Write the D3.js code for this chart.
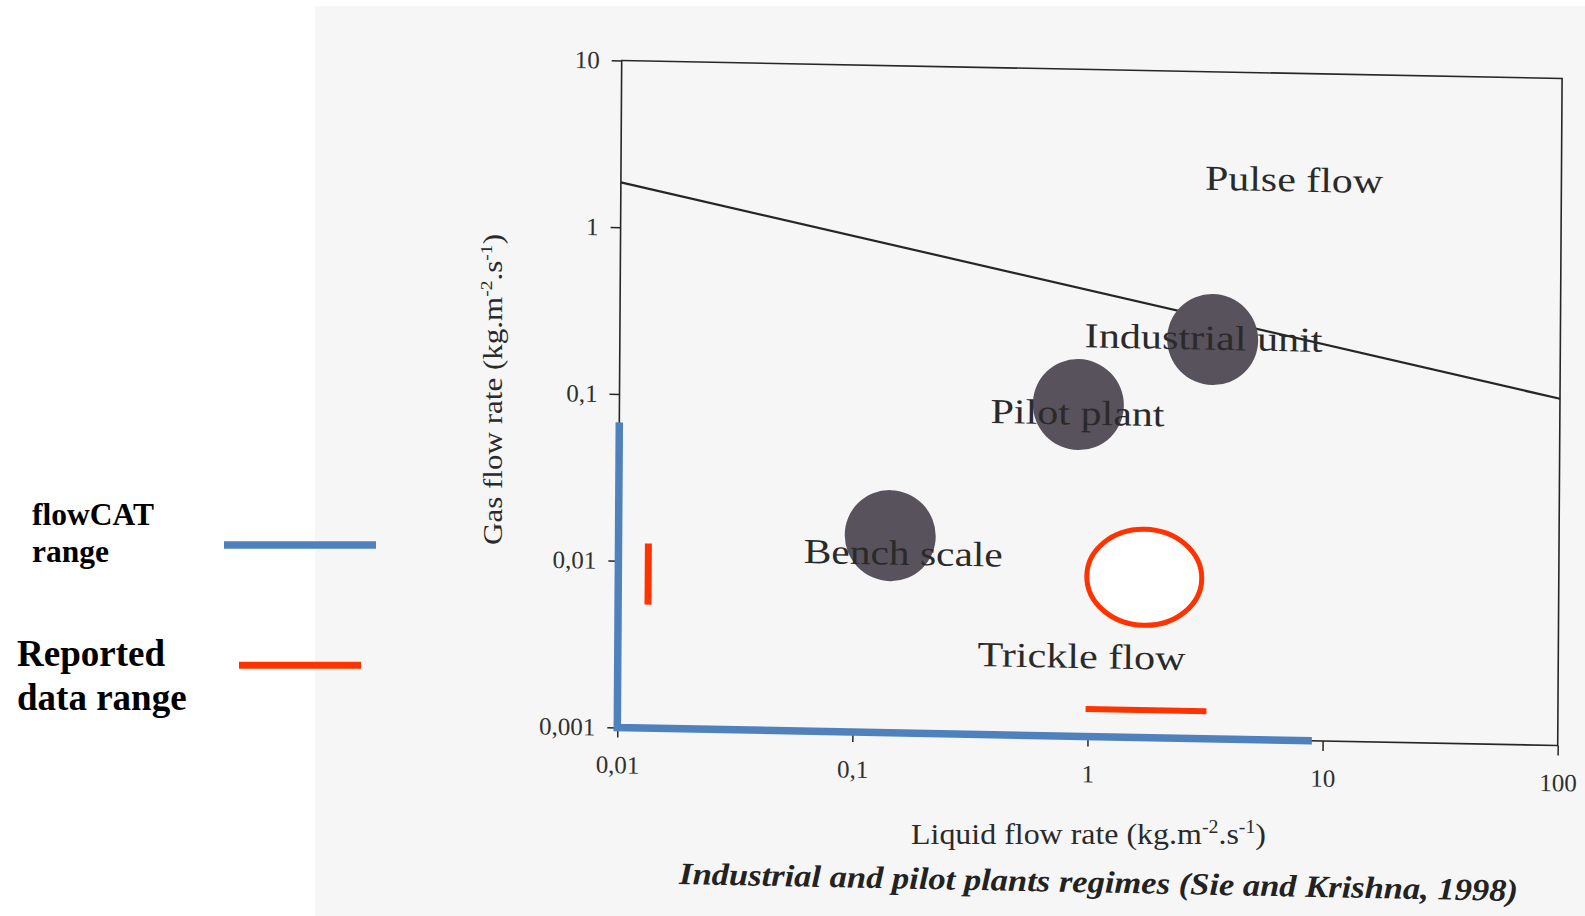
<!DOCTYPE html>
<html><head><meta charset="utf-8">
<script src="https://cdn.jsdelivr.net/npm/d3@7"></script>
<style>
html,body{margin:0;padding:0;background:#fff;}
svg{display:block;}
text{font-family:"Liberation Serif","Times New Roman",serif;}
</style></head><body>
<svg id="chart" width="1585" height="916"></svg>
<script>
// ---------- data ----------
const xTicks = [0.01, 0.1, 1, 10, 100];
const xTickLabels = ["0,01", "0,1", "1", "10", "100"];
const yTicks = [0.001, 0.01, 0.1, 1, 10];
const yTickLabels = ["0,001", "0,01", "0,1", "1", "10"];

// pulse / trickle flow transition line
const boundaryLiquid = [0.01, 100];
const boundaryGas = [1.86, 0.12];

// operating regimes (dark discs)
const unitNames = ["Bench scale", "Pilot plant", "Industrial unit"];
const unitLiquid = [0.143, 0.895, 3.32];
const unitGas = [0.0152, 0.0975, 0.248];

// text annotations (left edge / baseline in data units)
const regionNames = ["Pulse flow", "Industrial unit", "Pilot plant", "Bench scale", "Trickle flow"];
const regionLiquid = [3.05, 0.948, 0.379, 0.0614, 0.339];
const regionGas = [1.96, 0.2155, 0.074, 0.0102, 0.00257];

// flowCAT range (blue L)
const flowcatLiquid = [0.01, 0.01, 9.0];
const flowcatGas = [0.0676, 0.001, 0.001];

// reported data ranges (red)
const reportedVLiquid = [0.0134, 0.0134];
const reportedVGas = [0.0055, 0.0128];
const reportedHLiquid = [0.98, 3.2];
const reportedHGas = [0.00146, 0.00146];
const reportedEllipseLiquid = [0.983, 3.03];
const reportedEllipseGas = [0.00471, 0.01774];

const legendLabels = [["flowCAT", "range"], ["Reported", "data range"]];

// ---------- layout / style ----------
const BLUE = "#4f81bd", RED = "#ff3300", INK = "#262626";
const regionLen = [178, 238, 174, 199, 208];
const plotW = 940.4, plotH = 667;

const svg = d3.select("#chart");

// scanned page background
svg.append("rect").attr("x", 315).attr("y", 6).attr("width", 1270).attr("height", 910).attr("fill", "#f6f6f6");

const x = d3.scaleLog().domain([0.01, 100]).range([0, plotW]);
const y = d3.scaleLog().domain([0.001, 10]).range([0, -plotH]);

// scan is slightly skewed
const g = svg.append("g").attr("transform", "matrix(1,0.01914,-0.00659,1,617.3,727.5)");

// frame
g.append("rect").attr("x", x(0.01)).attr("y", y(10))
  .attr("width", x(100) - x(0.01)).attr("height", y(0.001) - y(10))
  .attr("fill", "none").attr("stroke", INK).attr("stroke-width", 1.6);

// axes
const xAxis = g.append("g").call(d3.axisBottom(x).tickValues(xTicks)
  .tickFormat((d, i) => xTickLabels[i]).tickSize(10).tickSizeOuter(0).tickPadding(18));
const yAxis = g.append("g").call(d3.axisLeft(y).tickValues(yTicks)
  .tickFormat((d, i) => yTickLabels[i]).tickSize(10).tickSizeOuter(0).tickPadding(12));
[xAxis, yAxis].forEach(a => {
  a.select(".domain").remove();
  a.selectAll(".tick line").attr("stroke", INK).attr("stroke-width", 1.5);
  a.selectAll(".tick text").attr("fill", "#303030").attr("font-size", 25)
    .attr("font-family", "'Liberation Serif', serif");
});

// boundary line
const line = d3.line().x(d => x(d[0])).y(d => y(d[1]));
g.append("path").datum(boundaryLiquid.map((l, i) => [l, boundaryGas[i]]))
  .attr("d", line).attr("fill", "none").attr("stroke", INK).attr("stroke-width", 2.2);

// discs
g.selectAll("circle.unit").data(unitNames).join("circle").attr("class", "unit")
  .attr("cx", (d, i) => x(unitLiquid[i])).attr("cy", (d, i) => y(unitGas[i]))
  .attr("r", 45.5).attr("fill", "#58525d");

// region labels
g.selectAll("text.region").data(regionNames).join("text").attr("class", "region")
  .attr("x", (d, i) => x(regionLiquid[i])).attr("y", (d, i) => y(regionGas[i]))
  .attr("font-size", 35).attr("fill", "#2a2a2a")
  .attr("textLength", (d, i) => regionLen[i]).attr("lengthAdjust", "spacingAndGlyphs")
  .text(d => d);

// flowCAT range
g.append("path").datum(flowcatLiquid.map((l, i) => [l, flowcatGas[i]]))
  .attr("d", line).attr("fill", "none").attr("stroke", BLUE).attr("stroke-width", 7.5)
  .attr("stroke-linejoin", "miter");

// reported data
g.append("path").datum(reportedVLiquid.map((l, i) => [l, reportedVGas[i]]))
  .attr("d", line).attr("stroke", RED).attr("stroke-width", 7);
g.append("path").datum(reportedHLiquid.map((l, i) => [l, reportedHGas[i]]))
  .attr("d", line).attr("stroke", RED).attr("stroke-width", 6);
{
  const x0 = x(reportedEllipseLiquid[0]), x1 = x(reportedEllipseLiquid[1]);
  const y0 = y(reportedEllipseGas[0]), y1 = y(reportedEllipseGas[1]);
  g.append("ellipse").attr("cx", (x0 + x1) / 2).attr("cy", (y0 + y1) / 2)
    .attr("rx", Math.abs(x1 - x0) / 2).attr("ry", Math.abs(y1 - y0) / 2)
    .attr("fill", "#ffffff").attr("stroke", RED).attr("stroke-width", 5);
}

// axis titles
const xt = svg.append("text").attr("x", 911).attr("y", 844).attr("font-size", 29).attr("fill", "#2a2a2a")
  .attr("textLength", 355).attr("lengthAdjust", "spacingAndGlyphs");
xt.append("tspan").text("Liquid flow rate (kg.m");
xt.append("tspan").attr("dy", -11).attr("font-size", 18).text("-2");
xt.append("tspan").attr("dy", 11).text(".s");
xt.append("tspan").attr("dy", -11).attr("font-size", 18).text("-1");
xt.append("tspan").attr("dy", 11).text(")");

const yt = svg.append("text").attr("transform", "translate(502,545) rotate(-90)")
  .attr("font-size", 27).attr("fill", "#2a2a2a")
  .attr("textLength", 311).attr("lengthAdjust", "spacingAndGlyphs");
yt.append("tspan").text("Gas flow rate (kg.m");
yt.append("tspan").attr("dy", -10).attr("font-size", 17).text("-2");
yt.append("tspan").attr("dy", 10).text(".s");
yt.append("tspan").attr("dy", -10).attr("font-size", 17).text("-1");
yt.append("tspan").attr("dy", 10).text(")");

// caption
svg.append("text").attr("transform", "translate(679,884) rotate(1.16)")
  .attr("font-size", 31).attr("font-weight", "bold").attr("font-style", "italic").attr("fill", "#222")
  .attr("textLength", 839).attr("lengthAdjust", "spacingAndGlyphs")
  .text("Industrial and pilot plants regimes (Sie and Krishna, 1998)");

// legend
const lg1 = svg.append("text").attr("font-weight", "bold").attr("font-size", 31.5).attr("fill", "#000");
lg1.append("tspan").attr("x", 32).attr("y", 525).text(legendLabels[0][0]);
lg1.append("tspan").attr("x", 32).attr("y", 561.5).text(legendLabels[0][1]);
const lg2 = svg.append("text").attr("font-weight", "bold").attr("font-size", 37).attr("fill", "#000");
lg2.append("tspan").attr("x", 17).attr("y", 665.5).text(legendLabels[1][0]);
lg2.append("tspan").attr("x", 17).attr("y", 710).text(legendLabels[1][1]);
svg.append("line").attr("x1", 224).attr("x2", 376).attr("y1", 545).attr("y2", 545)
  .attr("stroke", BLUE).attr("stroke-width", 7.5);
svg.append("line").attr("x1", 239).attr("x2", 361).attr("y1", 665.3).attr("y2", 665.3)
  .attr("stroke", RED).attr("stroke-width", 7);
</script>
</body></html>
